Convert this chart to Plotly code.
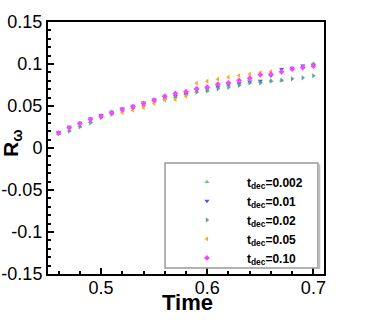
import plotly.graph_objects as go

# time samples (every 0.01)
time = [round(0.46 + 0.01 * i, 2) for i in range(25)]

r_002 = [0.017, 0.021, 0.026, 0.031, 0.037, 0.041, 0.045, 0.048, 0.051, 0.056,
         0.059, 0.061, 0.064, 0.0675, 0.069, 0.0725, 0.0745, 0.0765, 0.078, 0.079,
         0.080, 0.0805, 0.0945, 0.097, 0.1005]
r_01 = [0.019, 0.025, 0.030, 0.035, 0.039, 0.043, 0.047, 0.050, 0.054, 0.0575,
        0.060, 0.062, 0.064, 0.069, 0.0705, 0.073, 0.0755, 0.077, 0.079, 0.080,
        0.086, 0.094, 0.0955, 0.098, 0.099]
r_02 = [0.017, 0.020, 0.025, 0.030, 0.036, 0.040, 0.044, 0.047, 0.050, 0.055,
        0.058, 0.060, 0.063, 0.0665, 0.068, 0.0705, 0.072, 0.0745, 0.0775, 0.0775,
        0.0795, 0.0807, 0.0824, 0.0836, 0.086]
time_05 = time[6:21]
r_05 = [0.042, 0.045, 0.048, 0.053, 0.0574, 0.0577, 0.0617, 0.0772, 0.0795, 0.0819,
        0.0843, 0.0863, 0.0879, 0.0897, 0.091]
r_10 = [0.018, 0.024, 0.029, 0.034, 0.038, 0.042, 0.046, 0.049, 0.053, 0.057,
        0.0617, 0.065, 0.067, 0.0705, 0.0724, 0.076, 0.0776, 0.0804, 0.0831, 0.0871,
        0.0879, 0.0907, 0.094, 0.0958, 0.0974]

names = ["t<sub>dec</sub>=0.002", "t<sub>dec</sub>=0.01", "t<sub>dec</sub>=0.02",
         "t<sub>dec</sub>=0.05", "t<sub>dec</sub>=0.10"]
y_ticks = [0.15, 0.1, 0.05, 0, -0.05, -0.1, -0.15]
y_ticktext = ["0.15", "0.1", "0.05", "0", "-0.05", "-0.1", "-0.15"]
x_ticks = [0.5, 0.6, 0.7]
x_ticktext = ["0.5", "0.6", "0.7"]

series = [
    (time, r_002, "triangle-up", "#66cc66"),
    (time, r_01, "triangle-down", "#3a5cff"),
    (time, r_02, "triangle-right", "#6a9a9a"),
    (time_05, r_05, "triangle-left", "#ffaa22"),
    (time, r_10, "diamond", "#ff44ff"),
]

fig = go.Figure()
for (xs, ys, sym, col), nm in zip(series, names):
    fig.add_trace(go.Scatter(x=xs, y=ys, mode="markers", name=nm,
                             marker=dict(symbol=sym, size=4.5, color=col, line=dict(width=0))))

font = "Liberation Sans, Arial, sans-serif"

fig.update_layout(
    width=370, height=329,
    margin=dict(l=48, r=46, t=22, b=55),
    paper_bgcolor="white", plot_bgcolor="white",
    font=dict(family=font, size=18, color="black"),
    showlegend=True,
    legend=dict(x=0.431, y=0.423, xanchor="left", yanchor="top",
                bgcolor="rgba(0,0,0,0)", borderwidth=0, itemwidth=70,
                font=dict(family=font, size=12, color="black", weight="bold"),
                tracegroupgap=0),
    shapes=[
        dict(type="rect", xref="paper", yref="paper", x0=0.424, x1=0.978, y0=0.024, y1=0.44,
             line=dict(color="#999999", width=1.5), fillcolor="rgba(0,0,0,0)"),
        dict(type="line", xref="paper", yref="paper", x0=0.983, x1=0.983, y0=0.02, y1=0.435,
             line=dict(color="#bbbbbb", width=2)),
    ],
    annotations=[
        dict(text="<b>Time</b>", xref="paper", yref="paper", x=0.507, y=-0.055,
             xanchor="center", yanchor="top", showarrow=False, font=dict(size=22)),
        dict(text="<b>R<sub>ω</sub></b>", xref="paper", yref="paper", x=-0.185, y=0.52,
             xanchor="left", yanchor="middle", textangle=-90, showarrow=False,
             font=dict(size=21)),
    ],
)

fig.update_xaxes(
    range=[0.45, 0.71], showgrid=False, zeroline=False, automargin=False,
    showline=True, linecolor="black", linewidth=2, mirror=True,
    ticks="inside", ticklen=6, tickwidth=1.5, tickcolor="black",
    tickvals=x_ticks, ticktext=x_ticktext, ticklabelstandoff=-4,
    minor=dict(ticks="inside", ticklen=3, dtick=0.02, tick0=0.44, tickcolor="black", showgrid=False),
)
fig.update_yaxes(
    range=[-0.15, 0.15], showgrid=False, zeroline=False, automargin=False,
    showline=True, linecolor="black", linewidth=2, mirror=True,
    ticks="inside", ticklen=6, tickwidth=1.5, tickcolor="black",
    tickvals=y_ticks, ticktext=y_ticktext,
    minor=dict(ticks="inside", ticklen=3, dtick=0.01, tick0=0, tickcolor="black", showgrid=False),
)

# drop the page's default body margin so the figure sits at the window corner
fig.write_html("out.html", config={"displayModeBar": False},
               post_script="document.body.style.margin='0';")
